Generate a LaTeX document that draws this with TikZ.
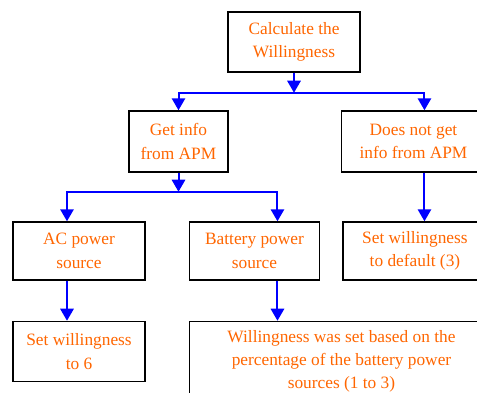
\documentclass[tikz,border=0pt]{standalone}
\usepackage{fontspec}
\setmainfont{Liberation Serif}
\usepackage{xcolor}
\usepackage{tikz}
\usetikzlibrary{positioning,arrows.meta,calc}
\definecolor{flow}{HTML}{FF6600}
\definecolor{link}{HTML}{0000FF}

\begin{document}
\begin{tikzpicture}[
    x=0.75pt, y=-0.75pt,
    box/.style={draw=black, line width=1.1pt, fill=white, align=center, inner sep=0pt, minimum width=99pt, minimum height=45pt, text=flow, font=\fontsize{13}{17.5}\selectfont},
    arr/.style={-{Triangle[length=9pt, width=10pt]}, line width=1.5pt, draw=link, fill=link},
    wire/.style={line width=1.5pt, draw=link, line cap=rect}
]
    \useasboundingbox (0,0) rectangle (477,392);
    \clip (0,0) rectangle (477,392);

    % Top level
    \node[box] (calc) at (294,42) {Calculate the\\Willingness};

    % APM or not
    \node[box, minimum width=74.25pt, minimum height=45.75pt] (getinfo) at (178.5,141.5) {Get info\\from APM};
    \node[box, minimum width=108pt, minimum height=45.75pt, right=84pt of getinfo] (notget) {Does not get\\info from APM};

    % Power source
    \node[box, minimum height=43.5pt] (ac) at (79,251) {AC power\\source};
    \node[box, minimum width=97.5pt, minimum height=43.5pt, right=32.25pt of ac] (batt) {Battery power\\source};
    \node[box, minimum width=108pt, minimum height=43.5pt, right=16.5pt of batt] (default) {Set willingness\\to default (3)};

    % Results
    \node[box, below=30pt of ac] (six) {Set willingness\\to 6};
    \node[box, minimum width=228pt, minimum height=60pt, below=30pt of batt.south west, anchor=north west] (will) {Willingness was set based on the\\percentage of the battery power\\sources (1 to 3)};

    % Branch 1
    \coordinate (j1) at ($(calc.south)+(0,20)$);
    \coordinate (notin) at ($(notget.north)+(11,0)$);
    \draw[arr] (calc.south) -- (j1);
    \draw[wire] (getinfo.north |- j1) -- (notin |- j1);
    \draw[arr] (getinfo.north |- j1) -- (getinfo.north);
    \draw[arr] (notin |- j1) -- (notin);

    % Branch 2
    \coordinate (j2) at ($(getinfo.south)+(0,19)$);
    \coordinate (acin) at ($(ac.north)+(-12,0)$);
    \coordinate (battin) at ($(batt.north)+(23,0)$);
    \draw[arr] (getinfo.south) -- (j2);
    \draw[wire] (acin |- j2) -- (battin |- j2);
    \draw[arr] (acin |- j2) -- (acin);
    \draw[arr] (battin |- j2) -- (battin);

    % Down links
    \draw[arr] (notin |- notget.south) -- (notin |- default.north);
    \draw[arr] (acin |- ac.south) -- (acin |- six.north);
    \draw[arr] (battin |- batt.south) -- (battin |- will.north);
\end{tikzpicture}
\end{document}
